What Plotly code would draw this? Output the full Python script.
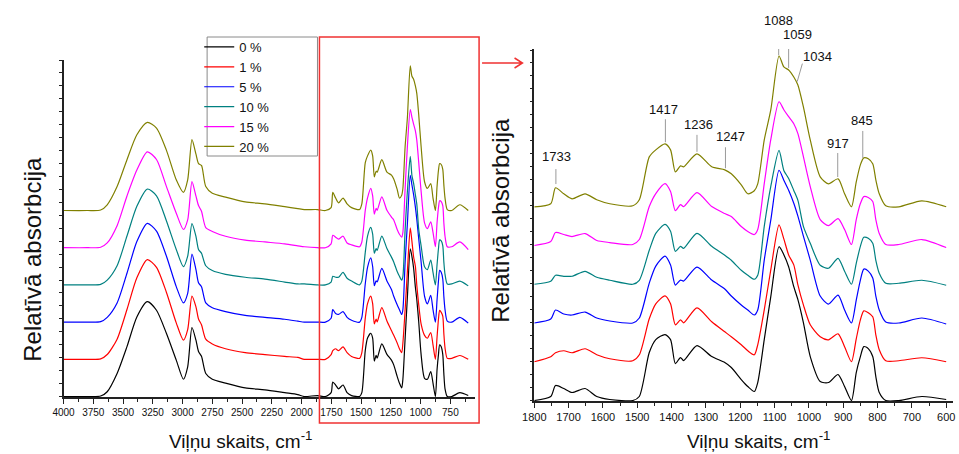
import numpy as np
import plotly.graph_objects as go

W, H = 959, 454

# ---------------------------------------------------------------- data
series_names = ["0 %", "1 %", "5 %", "10 %", "15 %", "20 %"]
series_colors = ["#000000", "#FF0000", "#0000FF", "#008080", "#FF00FF", "#808000"]

# wavenumber grid, cm-1 (O-H / C-H region, then fingerprint region)
wn_high = [4000, 3800, 3688, 3633, 3550, 3467, 3384, 3296, 3219, 3136, 3053, 2993, 2957,
           2921, 2888, 2866, 2841, 2805, 2750, 2639, 2474, 2308, 2142, 2032, 1977, 1867]
wn_low = [1800, 1752, 1738, 1714, 1690, 1652, 1618, 1580, 1513, 1494,
          1465, 1446, 1419, 1403, 1389, 1374, 1365, 1326, 1283, 1245,
          1226, 1197, 1178, 1159, 1149, 1130, 1111, 1087, 1073, 1059,
          1044, 1032, 1016, 996, 967, 943, 915, 896, 876, 862,
          850, 840, 827, 814, 805, 795, 776, 738, 671, 600]

# relative absorbance, 4000-1867 cm-1
abs_high_0 = [0, 0, 0.005, 0.05, 0.24, 0.52, 0.83, 0.99, 0.90, 0.66, 0.38, 0.18, 0.31,
              0.72, 0.59, 0.47, 0.42, 0.24, 0.18, 0.14, 0.09, 0.07, 0.04, 0.02, 0, 0.01]
abs_high_1 = [0, 0, 0.005, 0.05, 0.21, 0.52, 0.85, 1.04, 0.96, 0.70, 0.38, 0.20, 0.31,
              0.66, 0.55, 0.42, 0.36, 0.21, 0.16, 0.11, 0.07, 0.05, 0.03, 0.02, 0, 0]
abs_high_5 = [0, 0, 0.005, 0.05, 0.20, 0.51, 0.84, 1.03, 0.95, 0.69, 0.37, 0.20, 0.30,
              0.71, 0.55, 0.41, 0.37, 0.20, 0.15, 0.11, 0.07, 0.05, 0.03, 0.01, 0, 0]
abs_high_10 = [0, 0, 0.005, 0.05, 0.20, 0.51, 0.82, 1.00, 0.93, 0.67, 0.37, 0.19, 0.30,
               0.64, 0.51, 0.37, 0.33, 0.20, 0.15, 0.11, 0.08, 0.06, 0.03, 0.01, 0.01, 0]
abs_high_15 = [0, 0, 0.005, 0.05, 0.23, 0.54, 0.81, 1.00, 0.92, 0.64, 0.36, 0.19, 0.29,
               0.69, 0.54, 0.44, 0.38, 0.21, 0.17, 0.12, 0.08, 0.06, 0.04, 0.02, 0.01, 0]
abs_high_20 = [0, 0, 0.005, 0.06, 0.25, 0.53, 0.79, 0.92, 0.86, 0.63, 0.32, 0.19, 0.32,
               0.74, 0.59, 0.49, 0.47, 0.25, 0.18, 0.14, 0.09, 0.07, 0.04, 0.02, 0.01, 0.01]

# relative absorbance, 1800-600 cm-1
abs_low_0 = [0, 0.04, 0.15, 0.12, 0.08, 0.12, 0.04, 0.01, 0, 0.04,
             0.48, 0.61, 0.66, 0.61, 0.37, 0.43, 0.40, 0.55, 0.44, 0.38,
             0.33, 0.21, 0.14, 0.09, 0.18, 0.61, 1.04, 1.54, 1.46, 1.34,
             1.14, 1.01, 0.78, 0.44, 0.19, 0.18, 0.26, 0.14, 0, 0.28,
             0.44, 0.54, 0.52, 0.44, 0.24, 0.08, 0, 0, 0.04, 0.01]
abs_low_1 = [0, 0.05, 0.09, 0.11, 0.09, 0.13, 0.07, 0.03, 0.01, 0.07,
             0.43, 0.58, 0.66, 0.58, 0.37, 0.42, 0.39, 0.54, 0.40, 0.30,
             0.25, 0.17, 0.11, 0.07, 0.17, 0.52, 0.92, 1.37, 1.23, 1.07,
             0.97, 0.77, 0.57, 0.37, 0.25, 0.22, 0.28, 0.15, 0, 0.23,
             0.42, 0.51, 0.49, 0.45, 0.27, 0.12, 0.01, 0.01, 0.04, 0]
abs_low_5 = [0, 0.04, 0.13, 0.09, 0.08, 0.11, 0.05, 0.02, 0, 0.05,
             0.40, 0.57, 0.67, 0.58, 0.38, 0.43, 0.42, 0.56, 0.43, 0.34,
             0.27, 0.18, 0.13, 0.08, 0.13, 0.63, 1.03, 1.53, 1.43, 1.33,
             1.20, 1.07, 0.87, 0.63, 0.27, 0.19, 0.28, 0.13, 0, 0.23,
             0.43, 0.54, 0.52, 0.45, 0.27, 0.13, 0.01, 0, 0.05, -0.01]
abs_low_10 = [0, 0.03, 0.09, 0.08, 0.08, 0.13, 0.07, 0.04, 0, 0.04,
              0.34, 0.51, 0.60, 0.53, 0.33, 0.38, 0.36, 0.51, 0.38, 0.29,
              0.24, 0.14, 0.09, 0.05, 0.09, 0.58, 0.98, 1.34, 1.14, 1.06,
              0.94, 0.84, 0.58, 0.41, 0.19, 0.16, 0.26, 0.13, 0, 0.21,
              0.38, 0.47, 0.46, 0.41, 0.24, 0.11, 0.01, 0.01, 0.04, -0.01]
abs_low_15 = [0, 0.04, 0.13, 0.11, 0.09, 0.12, 0.05, 0.03, 0.01, 0.06,
              0.39, 0.52, 0.62, 0.54, 0.35, 0.41, 0.39, 0.53, 0.39, 0.32,
              0.29, 0.19, 0.14, 0.11, 0.16, 0.62, 1.06, 1.44, 1.36, 1.29,
              1.22, 1.12, 0.89, 0.59, 0.26, 0.20, 0.27, 0.16, 0.01, 0.26,
              0.42, 0.49, 0.48, 0.44, 0.26, 0.12, 0.01, 0.01, 0.06, -0.02]
abs_low_20 = [0, 0.03, 0.19, 0.13, 0.08, 0.13, 0.07, 0.03, 0.01, 0.07,
              0.50, 0.57, 0.63, 0.57, 0.35, 0.41, 0.40, 0.53, 0.40, 0.37,
              0.33, 0.22, 0.13, 0.16, 0.23, 0.67, 0.97, 1.51, 1.40, 1.37,
              1.30, 1.22, 1.00, 0.67, 0.30, 0.23, 0.28, 0.13, 0, 0.25,
              0.42, 0.49, 0.48, 0.43, 0.27, 0.13, 0.01, 0, 0.06, 0]

abs_high = [abs_high_0, abs_high_1, abs_high_5, abs_high_10, abs_high_15, abs_high_20]
abs_low = [abs_low_0, abs_low_1, abs_low_5, abs_low_10, abs_low_15, abs_low_20]

# annotated bands (drawn on the 20 % spectrum in the zoomed panel)
band_labels = ["1733", "1417", "1236", "1247", "1088", "1059", "1034", "917", "845"]
band_positions = [1737, 1418, 1326, 1243, 1088, 1059, 1034, 916, 843]

left_ticks = [4000, 3750, 3500, 3250, 3000, 2750, 2500, 2250, 2000, 1750, 1500, 1250, 1000, 750]
right_ticks = [1800, 1700, 1600, 1500, 1400, 1300, 1200, 1100, 1000, 900, 800, 700, 600]

# ---------------------------------------------------------------- layout helpers
STACK_STEP = 0.388          # vertical shift between consecutive spectra
FONT = "Arial, Liberation Sans, sans-serif"


def px(x):
    return x / W


def py(y):
    return 1 - y / H


wn_all = wn_high + wn_low

fig = go.Figure()
for i, name in enumerate(series_names):
    y = np.array(abs_high[i] + abs_low[i]) + i * STACK_STEP
    line = dict(color=series_colors[i], width=1.2, shape="spline", smoothing=0.7)
    fig.add_trace(go.Scatter(x=wn_all, y=y, mode="lines", name=name, line=line,
                             xaxis="x", yaxis="y", showlegend=True))
    fig.add_trace(go.Scatter(x=wn_low, y=np.array(abs_low[i]) + i * STACK_STEP,
                             mode="lines", name=name, line=line,
                             xaxis="x2", yaxis="y2", showlegend=False))

axis_common = dict(showline=True, linecolor="#222222", linewidth=1.5, mirror=False,
                   showgrid=False, zeroline=False, ticks="outside", tickcolor="#222222",
                   tickwidth=1, tickfont=dict(family=FONT, size=10, color="#111111"))

xaxis_left = dict(axis_common, domain=[px(52.3), px(470)], range=[4000, 542],
                  tickvals=left_ticks, ticklen=5,
                  minor=dict(dtick=125, tick0=0, ticks="outside", ticklen=3,
                             tickcolor="#222222", tickwidth=1),
                  anchor="y")
xaxis_right = dict(axis_common, domain=[px(530), px(955)], range=[1800, 580],
                   tickvals=right_ticks, ticklen=5,
                   minor=dict(dtick=50, tick0=0, ticks="outside", ticklen=3,
                              tickcolor="#222222", tickwidth=1),
                   anchor="y2")
xaxis_right["tickfont"] = dict(family=FONT, size=11, color="#111111")

yaxis_left = dict(axis_common, domain=[py(397), py(60)], range=[-0.005, 3.51],
                  showticklabels=False, dtick=0.135, tick0=0, ticklen=3, anchor="x")
yaxis_right = dict(axis_common, domain=[py(401), py(49)], range=[-0.005, 3.52],
                   showticklabels=False, dtick=0.13, tick0=0, ticklen=3, anchor="x2")

fig.update_layout(
    width=W, height=H, margin=dict(l=0, r=0, t=0, b=0),
    paper_bgcolor="white", plot_bgcolor="white",
    xaxis=xaxis_left, yaxis=yaxis_left, xaxis2=xaxis_right, yaxis2=yaxis_right,
    legend=dict(x=px(190), y=py(32), xanchor="left", yanchor="top",
                borderwidth=0, bgcolor="rgba(0,0,0,0)",
                font=dict(family=FONT, size=13, color="#111111"),
                tracegroupgap=0, itemwidth=30),
    font=dict(family=FONT, color="#111111"),
)

# ---------------------------------------------------------------- band labels
olive = np.array(abs_low_20) + 5 * STACK_STEP
wn_low_arr = np.array(wn_low)
# leader offsets in pixels: (gap above curve, line length, text centre above curve, text dx)
label_style = {
    "1733": (4, 15, 32, 1), "1417": (2, 23, 35, -2), "1236": (2, 17, 29, 2),
    "1247": (2, 21, 34, 5), "1088": (3, 21, 38, 0), "1059": (2, 30, 35, 9),
    "1034": (2, 18, 27, 20), "917": (2, 24, 35, 0), "845": (2, 27, 39, -1),
}
shapes = []
annotations = []
for lab, pos in zip(band_labels, band_positions):
    yv = float(np.interp(pos, wn_low_arr[::-1], olive[::-1]))
    gap, length, tc, dx = label_style[lab]
    x1 = pos - 15 if lab == "1034" else pos
    shapes.append(dict(type="line", xref="x2", yref="y2", ysizemode="pixel", yanchor=yv,
                       x0=pos, x1=x1, y0=gap, y1=gap + length,
                       line=dict(color="#9a9a9a", width=1)))
    annotations.append(dict(x=pos, y=yv, xref="x2", yref="y2", text=lab, showarrow=False,
                            xshift=dx, yshift=tc, xanchor="center", yanchor="middle",
                            font=dict(family=FONT, size=13, color="#111111")))

# legend frame
shapes.append(dict(type="rect", xref="paper", yref="paper", layer="below",
                   x0=px(198), x1=px(310), y0=py(156), y1=py(37),
                   fillcolor="white", line=dict(color="#8a8a8a", width=1)))

# zoom frame around the fingerprint region of the full spectra, plus arrow
shapes.append(dict(type="rect", xref="paper", yref="paper",
                   x0=px(312), x1=px(474), y0=py(423), y1=py(37),
                   line=dict(color="#F03232", width=1.5)))
ay = py(63)
shapes.append(dict(type="path", xref="paper", yref="paper",
                   path=f"M {px(477)},{ay} L {px(518)},{ay} "
                        f"M {px(510)},{py(58)} L {px(518)},{ay} L {px(510)},{py(68)}",
                   line=dict(color="#F03232", width=1.5)))

# axis titles
title_font = dict(family=FONT, size=19, color="#111111")
for xc in (232, 758):
    annotations.append(dict(x=px(xc), y=py(440), xref="paper", yref="paper",
                            text="Viļņu skaits, cm<sup>-1</sup>", showarrow=False,
                            xanchor="center", yanchor="middle", font=title_font))
for xc, yc in ((20, 259), (495, 220)):
    annotations.append(dict(x=px(xc), y=py(yc), xref="paper", yref="paper",
                            text="Relatīvā absorbcija", showarrow=False, textangle=-90,
                            xanchor="center", yanchor="middle",
                            font=dict(family=FONT, size=24, color="#111111")))

fig.update_layout(shapes=shapes, annotations=annotations)
fig.write_html("out.html")
